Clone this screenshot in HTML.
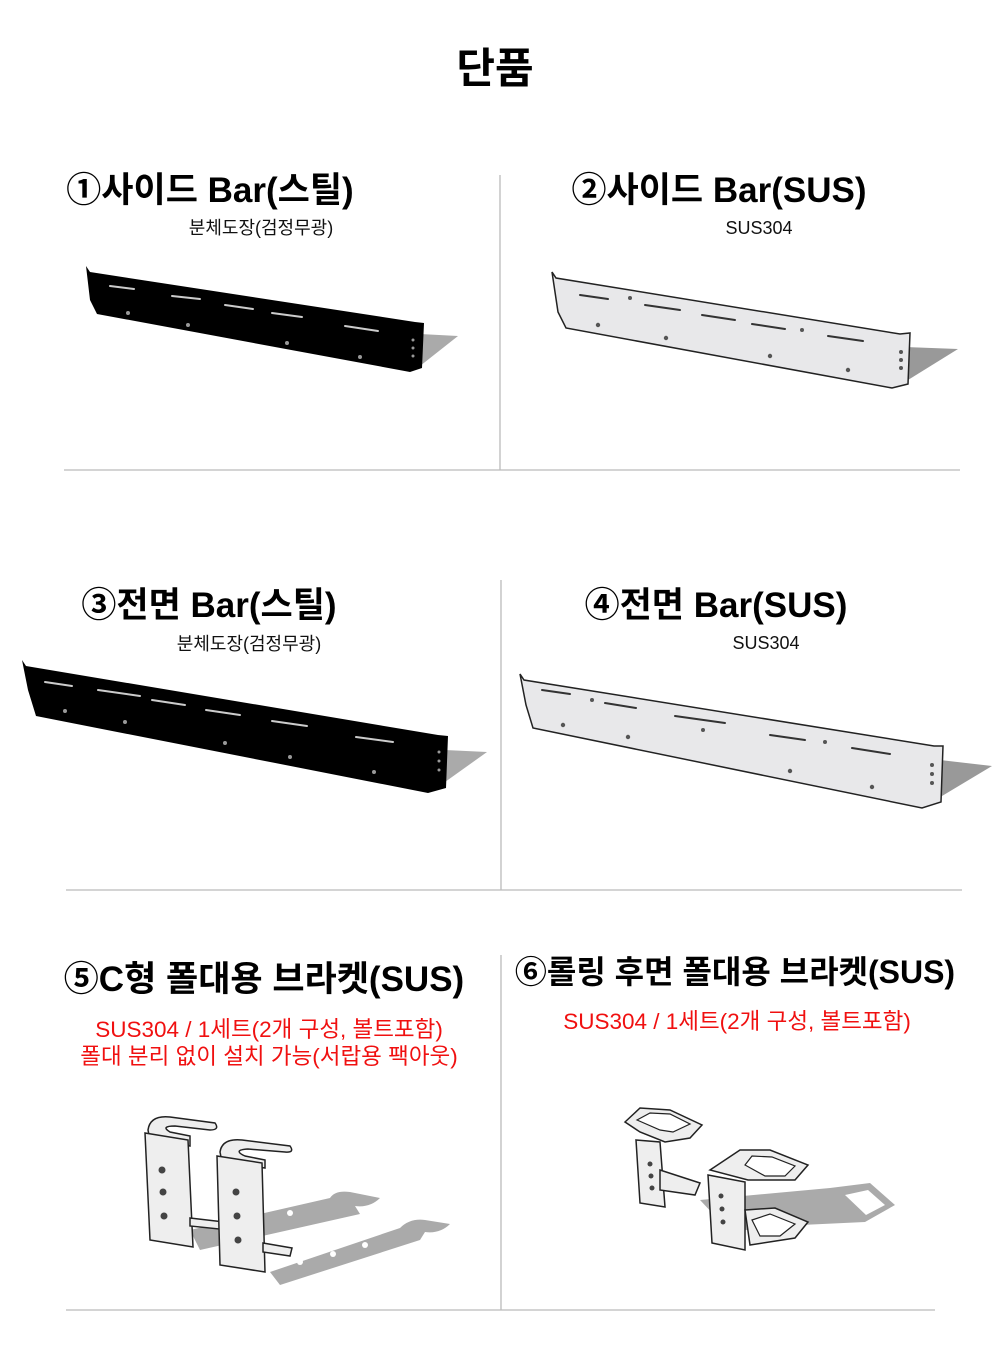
<!DOCTYPE html>
<html><head><meta charset="utf-8"><style>
body{margin:0;background:#fff;}
#p{position:relative;width:1000px;height:1348px;overflow:hidden;font-family:"Liberation Sans","Noto Sans CJK KR",sans-serif;}
.t{position:absolute;width:600px;text-align:center;white-space:nowrap;line-height:1;}
.h{font-size:35px;font-weight:bold;color:#000;}
.s{font-size:18px;color:#111;}
.r{font-size:22.5px;color:#f01010;}
svg{position:absolute;left:0;top:0;}
</style></head><body><div id="p">
<svg width="1000" height="1348" viewBox="0 0 1000 1348">
<g stroke="#bbb" stroke-width="1.3">
<line x1="500" y1="175" x2="500" y2="470"/><line x1="64" y1="470" x2="960" y2="470"/>
<line x1="501" y1="580" x2="501" y2="890"/><line x1="66" y1="890" x2="962" y2="890"/>
<line x1="501" y1="955" x2="501" y2="1310"/><line x1="66" y1="1310" x2="935" y2="1310"/>
</g>
<polygon points="420,334 458,336 420,366" fill="#aaa"/>
<polygon points="86,266 90,272 415,322 424,323 422,368 410,372 97,314 90,300" fill="#000"/>
<g stroke="#ccc" stroke-width="2" stroke-linecap="round"><line x1="110" y1="286" x2="134" y2="289"/><line x1="172" y1="296" x2="200" y2="299"/><line x1="225" y1="305" x2="253" y2="309"/><line x1="272" y1="313" x2="302" y2="317"/><line x1="345" y1="326" x2="378" y2="331"/></g>
<g fill="#999"><circle cx="128" cy="313" r="2"/><circle cx="188" cy="325" r="2"/><circle cx="287" cy="343" r="2"/><circle cx="360" cy="357" r="2"/><circle cx="413" cy="340" r="1.5"/><circle cx="413" cy="348" r="1.5"/><circle cx="413" cy="356" r="1.5"/></g>
<polygon points="905,347 958,349 908,380" fill="#999"/>
<polygon points="552,272 556,278 900,334 910,333 908,384 892,388 566,328 558,312" fill="#e8e8ea" stroke="#222" stroke-width="1.5"/>
<g stroke="#333" stroke-width="2" stroke-linecap="round" fill="none"><line x1="580" y1="295" x2="608" y2="299"/><line x1="645" y1="305" x2="680" y2="310"/><line x1="702" y1="315" x2="735" y2="320"/><line x1="752" y1="324" x2="785" y2="329"/><line x1="828" y1="336" x2="863" y2="341"/></g>
<g fill="#555"><circle cx="598" cy="325" r="2.2"/><circle cx="666" cy="338" r="2.2"/><circle cx="770" cy="356" r="2.2"/><circle cx="848" cy="370" r="2.2"/><circle cx="630" cy="298" r="2"/><circle cx="802" cy="330" r="2"/><circle cx="901" cy="352" r="2"/><circle cx="901" cy="360" r="2"/><circle cx="901" cy="368" r="2"/></g>
<polygon points="445,750 487,752 445,782" fill="#aaa"/>
<polygon points="22,660 26,666 438,735 448,736 446,788 428,793 36,716 28,690" fill="#000"/>
<g stroke="#ccc" stroke-width="2" stroke-linecap="round"><line x1="45" y1="682" x2="72" y2="686"/><line x1="98" y1="690" x2="140" y2="696"/><line x1="152" y1="700" x2="185" y2="705"/><line x1="206" y1="710" x2="240" y2="715"/><line x1="272" y1="721" x2="307" y2="726"/><line x1="356" y1="737" x2="393" y2="742"/></g>
<g fill="#999"><circle cx="65" cy="711" r="2"/><circle cx="125" cy="722" r="2"/><circle cx="225" cy="743" r="2"/><circle cx="290" cy="757" r="2"/><circle cx="374" cy="772" r="2"/><circle cx="439" cy="752" r="1.5"/><circle cx="439" cy="761" r="1.5"/><circle cx="439" cy="770" r="1.5"/></g>
<polygon points="940,760 992,766 942,796" fill="#999"/>
<polygon points="520,674 524,680 934,746 943,746 941,802 922,808 533,728 526,705" fill="#e8e8ea" stroke="#222" stroke-width="1.5"/>
<g stroke="#333" stroke-width="2" stroke-linecap="round"><line x1="542" y1="690" x2="570" y2="694"/><line x1="605" y1="703" x2="636" y2="708"/><line x1="675" y1="716" x2="725" y2="723"/><line x1="770" y1="735" x2="805" y2="740"/><line x1="852" y1="748" x2="890" y2="754"/></g>
<g fill="#555"><circle cx="563" cy="725" r="2.2"/><circle cx="628" cy="737" r="2.2"/><circle cx="703" cy="730" r="2"/><circle cx="790" cy="771" r="2.2"/><circle cx="872" cy="787" r="2.2"/><circle cx="592" cy="700" r="2"/><circle cx="825" cy="742" r="2"/><circle cx="932" cy="765" r="2"/><circle cx="932" cy="774" r="2"/><circle cx="932" cy="783" r="2"/></g>
<g fill="#aaa">
<path d="M190,1230 L330,1198 Q335,1190 350,1192 L380,1198 Q370,1208 355,1206 L360,1214 L200,1250 Z"/>
<path d="M270,1272 L400,1228 Q410,1218 425,1220 L450,1224 Q440,1234 425,1232 L420,1240 L280,1285 Z"/>
</g>
<g fill="#fff"><circle cx="260" cy="1222" r="3"/><circle cx="290" cy="1213" r="3"/><circle cx="300" cy="1262" r="3"/><circle cx="333" cy="1254" r="3"/><circle cx="365" cy="1245" r="3"/></g>
<g fill="#eee" stroke="#222" stroke-width="1.5">
<path d="M148,1130 Q150,1115 170,1117 L215,1123 Q220,1130 210,1130 L175,1126 Q160,1126 170,1132 L190,1136 L190,1146 L150,1140 Z"/>
<path d="M145,1133 L188,1140 L193,1247 L150,1240 Z"/>
<path d="M190,1218 L250,1225 L248,1232 L190,1226 Z"/>
<path d="M220,1152 Q222,1138 242,1140 L290,1146 Q295,1153 285,1152 L248,1149 Q232,1150 245,1156 L265,1160 L265,1168 L222,1162 Z"/>
<path d="M217,1156 L262,1163 L265,1272 L220,1265 Z"/>
<path d="M263,1243 L292,1248 L290,1256 L263,1252 Z"/>
</g>
<g fill="#444"><circle cx="162" cy="1170" r="3.5"/><circle cx="163" cy="1192" r="3.5"/><circle cx="164" cy="1216" r="3.5"/><circle cx="236" cy="1192" r="3.5"/><circle cx="237" cy="1216" r="3.5"/><circle cx="238" cy="1240" r="3.5"/></g>
<path d="M700,1200 L830,1188 L870,1183 L895,1205 L865,1222 L780,1226 L730,1232 Z" fill="#aaa"/>
<path d="M845,1195 L868,1190 L885,1205 L866,1215 Z" fill="#fff"/>
<g fill="#eee" stroke="#222" stroke-width="1.5">
<path d="M625,1122 L640,1108 L670,1110 L702,1125 L690,1138 L665,1142 L640,1132 Z"/>
<path d="M636,1140 L660,1142 L665,1207 L640,1203 Z"/>
<path d="M660,1170 L700,1183 L695,1195 L660,1190 Z"/>
<path d="M710,1170 L740,1150 L770,1150 L808,1165 L795,1180 L748,1180 Z"/>
<path d="M708,1175 L745,1182 L745,1250 L712,1243 Z"/>
<path d="M745,1210 L775,1208 L808,1222 L795,1238 L750,1245 Z"/>
</g>
<g fill="#fff" stroke="#222" stroke-width="1.2"><path d="M637,1120 L650,1113 L670,1114 L690,1124 L673,1132 L660,1130 Z"/><path d="M745,1165 L752,1156 L772,1157 L795,1166 L785,1176 L765,1176 Z"/><path d="M752,1220 L770,1214 L795,1224 L780,1236 L760,1236 Z"/></g>
<g fill="#444"><circle cx="650" cy="1164" r="2.5"/><circle cx="651" cy="1176" r="2.5"/><circle cx="652" cy="1188" r="2.5"/><circle cx="721" cy="1196" r="2.5"/><circle cx="722" cy="1209" r="2.5"/><circle cx="723" cy="1222" r="2.5"/></g>
</svg>
<div class="t" style="left:195px;top:48px;font-size:42px;font-weight:bold;">단품</div>
<div class="t h" style="left:-90px;top:173px;">①사이드 Bar(스틸)</div>
<div class="t s" style="left:-39px;top:219px;">분체도장(검정무광)</div>
<div class="t h" style="left:419px;top:173px;">②사이드 Bar(SUS)</div>
<div class="t s" style="left:459px;top:219px;">SUS304</div>
<div class="t h" style="left:-91px;top:588px;">③전면 Bar(스틸)</div>
<div class="t s" style="left:-51px;top:635px;">분체도장(검정무광)</div>
<div class="t h" style="left:416px;top:588px;">④전면 Bar(SUS)</div>
<div class="t s" style="left:466px;top:634px;">SUS304</div>
<div class="t h" style="left:-36px;top:962px;">⑤C형 폴대용 브라켓(SUS)</div>
<div class="t r" style="left:-31px;top:1019px;">SUS304 / 1세트(2개 구성, 볼트포함)</div>
<div class="t r" style="left:-31px;top:1046px;">폴대 분리 없이 설치 가능(서랍용 팩아웃)</div>
<div class="t h" style="left:435px;top:956px;font-size:32px;">⑥롤링 후면 폴대용 브라켓(SUS)</div>
<div class="t r" style="left:437px;top:1011px;">SUS304 / 1세트(2개 구성, 볼트포함)</div>
</div></body></html>
